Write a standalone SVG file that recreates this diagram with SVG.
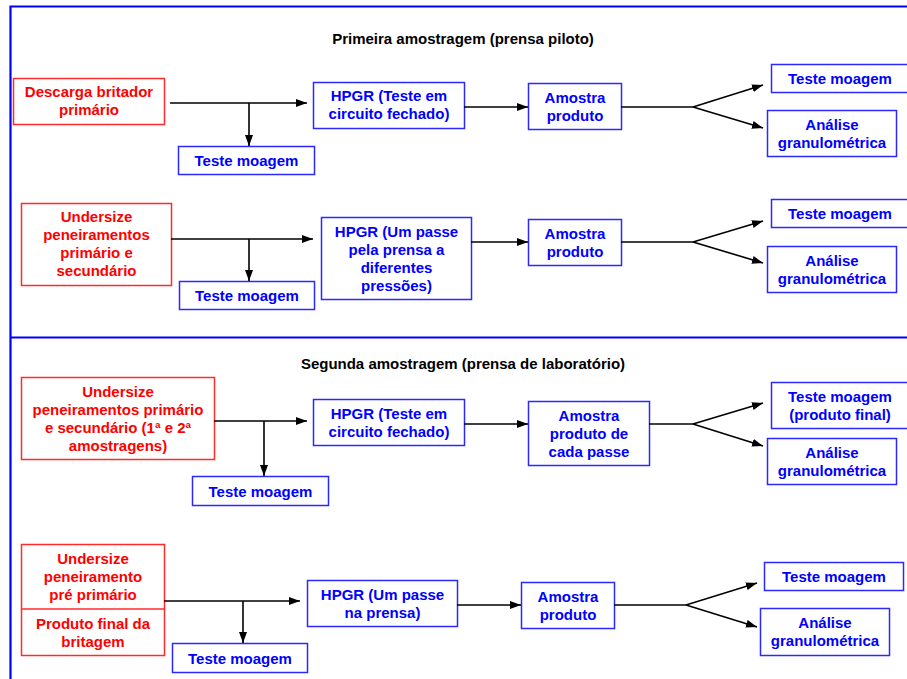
<svg xmlns="http://www.w3.org/2000/svg" width="907" height="679" viewBox="0 0 907 679">
<style>
text{font-family:"Liberation Sans",Arial,sans-serif;font-weight:bold;font-size:15px;text-anchor:middle}
.r rect,.r line{fill:#fff;stroke:#ff2a2a;stroke-width:1.5}
.r text{fill:#ff0000}
.b rect{fill:#fff;stroke:#2a2aff;stroke-width:1.5}
.b text{fill:#0000ff}
.t{fill:#000}
.c line,.c polyline{stroke:#000;stroke-width:1.6;fill:none}
.f{stroke:#0000ff;stroke-width:2.2;fill:none}
</style>
<defs>
<marker id="ah" markerUnits="userSpaceOnUse" markerWidth="11" markerHeight="8" refX="11" refY="4" orient="auto">
<path d="M0,0 L11,4 L0,8 z" fill="#000"/>
</marker>
</defs>
<rect width="907" height="679" fill="#fff"/>
<g id="frame">
<polyline class="f" points="10.5,679 10.5,6.5 907,6.5"/>
<line class="f" x1="10.5" y1="337.5" x2="907" y2="337.5"/>
</g>
<text class="t" x="463" y="44">Primeira amostragem (prensa piloto)</text>
<text class="t" x="463" y="369">Segunda amostragem (prensa de laboratório)</text>

<!-- Row 1 -->
<g id="n1" class="r"><rect x="13.5" y="78.5" width="151" height="46"/><text x="89" y="97">Descarga britador</text><text x="89" y="115">primário</text></g>
<g id="n2" class="b"><rect x="313.5" y="82.5" width="151" height="46"/><text x="389" y="101">HPGR (Teste em</text><text x="389" y="119">circuito fechado)</text></g>
<g id="n3" class="b"><rect x="178.5" y="146.5" width="136" height="28"/><text x="246.5" y="166">Teste moagem</text></g>
<g id="n4" class="b"><rect x="528.5" y="83.5" width="93" height="46"/><text x="575" y="103">Amostra</text><text x="575" y="121">produto</text></g>
<g id="n5" class="b"><rect x="771.5" y="64.5" width="138" height="28"/><text x="840" y="84">Teste moagem</text></g>
<g id="n6" class="b"><rect x="767.5" y="110.5" width="129" height="46"/><text x="832" y="130">Análise</text><text x="832" y="148">granulométrica</text></g>

<!-- Row 2 -->
<g id="n7" class="r"><rect x="21.5" y="203.5" width="150" height="82"/><text x="96.5" y="222">Undersize</text><text x="96.5" y="240">peneiramentos</text><text x="96.5" y="258">primário e</text><text x="96.5" y="276">secundário</text></g>
<g id="n8" class="b"><rect x="321.5" y="217.5" width="150" height="82"/><text x="396.5" y="237">HPGR (Um passe</text><text x="396.5" y="255">pela prensa a</text><text x="396.5" y="273">diferentes</text><text x="396.5" y="291">pressões)</text></g>
<g id="n9" class="b"><rect x="179.5" y="281.5" width="135" height="28"/><text x="247" y="301">Teste moagem</text></g>
<g id="n10" class="b"><rect x="528.5" y="219.5" width="93" height="46"/><text x="575" y="239">Amostra</text><text x="575" y="257">produto</text></g>
<g id="n11" class="b"><rect x="771.5" y="199.5" width="138" height="28"/><text x="840" y="219">Teste moagem</text></g>
<g id="n12" class="b"><rect x="767.5" y="246.5" width="129" height="46"/><text x="832" y="266">Análise</text><text x="832" y="284">granulométrica</text></g>

<!-- Row 3 -->
<g id="n13" class="r"><rect x="21.5" y="377.5" width="193" height="82"/><text x="118" y="397">Undersize</text><text x="118" y="415">peneiramentos primário</text><text x="118" y="433">e secundário (1ª e 2ª</text><text x="118" y="451">amostragens)</text></g>
<g id="n14" class="b"><rect x="313.5" y="399.5" width="151" height="46"/><text x="389" y="419">HPGR (Teste em</text><text x="389" y="437">circuito fechado)</text></g>
<g id="n15" class="b"><rect x="192.5" y="476.5" width="136" height="29"/><text x="260.5" y="497">Teste moagem</text></g>
<g id="n16" class="b"><rect x="528.5" y="401.5" width="121" height="64"/><text x="589" y="421">Amostra</text><text x="589" y="439">produto de</text><text x="589" y="457">cada passe</text></g>
<g id="n17" class="b"><rect x="771.5" y="382.5" width="138" height="46"/><text x="840" y="402">Teste moagem</text><text x="840" y="420">(produto final)</text></g>
<g id="n18" class="b"><rect x="767.5" y="438.5" width="129" height="46"/><text x="832" y="458">Análise</text><text x="832" y="476">granulométrica</text></g>

<!-- Row 4 -->
<g id="n19" class="r"><rect x="21.5" y="544.5" width="143" height="111"/><line x1="21.5" y1="609" x2="164.5" y2="609"/><text x="93" y="564">Undersize</text><text x="93" y="582">peneiramento</text><text x="93" y="600">pré primário</text><text x="93" y="629">Produto final da</text><text x="93" y="647">britagem</text></g>
<g id="n20" class="b"><rect x="307.5" y="580.5" width="150" height="46"/><text x="382.5" y="600">HPGR (Um passe</text><text x="382.5" y="618">na prensa)</text></g>
<g id="n21" class="b"><rect x="172.5" y="643.5" width="135" height="29"/><text x="240" y="664">Teste moagem</text></g>
<g id="n22" class="b"><rect x="521.5" y="582.5" width="93" height="46"/><text x="568" y="602">Amostra</text><text x="568" y="620">produto</text></g>
<g id="n23" class="b"><rect x="764.5" y="562.5" width="139" height="28"/><text x="834" y="582">Teste moagem</text></g>
<g id="n24" class="b"><rect x="760.5" y="608.5" width="129" height="47"/><text x="825" y="628">Análise</text><text x="825" y="646">granulométrica</text></g>

<g id="connectors" class="c">
<!-- row 1 -->
<line x1="170" y1="103" x2="307" y2="103" marker-end="url(#ah)"/>
<line x1="249" y1="103" x2="249" y2="146" marker-end="url(#ah)"/>
<line x1="464" y1="107" x2="528" y2="107" marker-end="url(#ah)"/>
<line x1="621" y1="107" x2="693" y2="107"/>
<line x1="693" y1="107" x2="763" y2="85" marker-end="url(#ah)"/>
<line x1="693" y1="107" x2="763" y2="128" marker-end="url(#ah)"/>
<!-- row 2 -->
<line x1="171" y1="239" x2="313" y2="239" marker-end="url(#ah)"/>
<line x1="249" y1="239" x2="249" y2="281" marker-end="url(#ah)"/>
<line x1="471" y1="242" x2="528" y2="242" marker-end="url(#ah)"/>
<line x1="621" y1="242" x2="693" y2="242"/>
<line x1="693" y1="242" x2="763" y2="221" marker-end="url(#ah)"/>
<line x1="693" y1="242" x2="763" y2="263" marker-end="url(#ah)"/>
<!-- row 3 -->
<line x1="214" y1="421" x2="307" y2="421" marker-end="url(#ah)"/>
<line x1="264" y1="421" x2="264" y2="476" marker-end="url(#ah)"/>
<line x1="464" y1="424" x2="528" y2="424" marker-end="url(#ah)"/>
<line x1="649" y1="424" x2="693" y2="424"/>
<line x1="693" y1="424" x2="763" y2="403" marker-end="url(#ah)"/>
<line x1="693" y1="424" x2="763" y2="446" marker-end="url(#ah)"/>
<!-- row 4 -->
<line x1="164" y1="601" x2="300" y2="601" marker-end="url(#ah)"/>
<line x1="243" y1="601" x2="243" y2="643" marker-end="url(#ah)"/>
<line x1="457" y1="605" x2="521" y2="605" marker-end="url(#ah)"/>
<line x1="614" y1="605" x2="686" y2="605"/>
<line x1="686" y1="605" x2="757" y2="583" marker-end="url(#ah)"/>
<line x1="686" y1="605" x2="757" y2="627" marker-end="url(#ah)"/>
</g>
</svg>
